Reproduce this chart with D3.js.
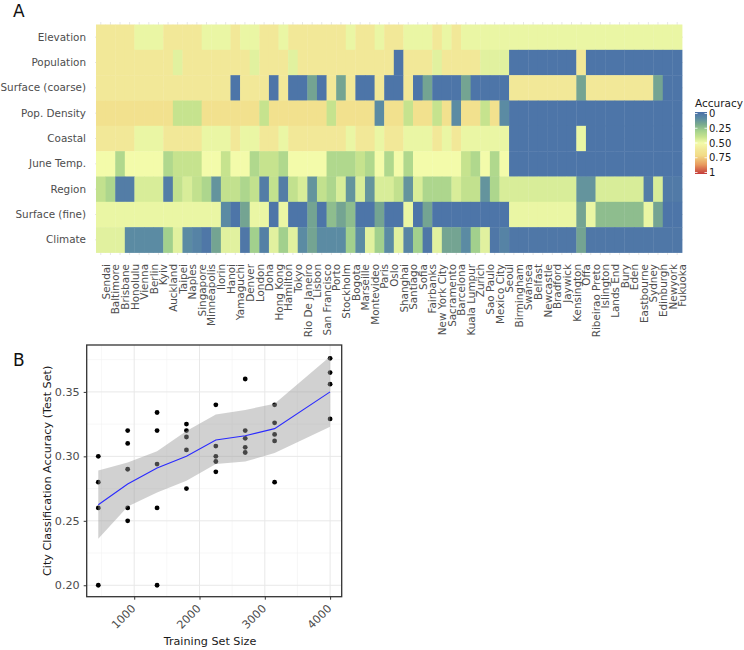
<!DOCTYPE html>
<html>
<head>
<meta charset="utf-8">
<script src="https://cdn.jsdelivr.net/npm/d3@7"></script>
<style>
  body { margin: 0; background: #fff; }
  svg { display: block; font-family: "DejaVu Sans", sans-serif; }
</style>
</head>
<body>
<svg id="chart" width="744" height="650"></svg>
<script>

// ---- panel A data ----
var cities = ["Sendai", "Baltimore", "Brisbane", "Honolulu", "Vienna", "Berlin", "Kyiv", "Auckland", "Taipei", "Naples",
  "Singapore", "Minneapolis", "Ilorin", "Hanoi", "Yamaguchi", "Denver", "London", "Doha", "Hong Kong", "Hamilton",
  "Tokyo", "Rio De Janeiro", "Lisbon", "San Francisco", "Porto", "Stockholm", "Bogota", "Marseille", "Montevideo", "Paris",
  "Oslo", "Shanghai", "Santiago", "Sofia", "Fairbanks", "New York City", "Sacramento", "Barcelona", "Kuala Lumpur", "Zurich",
  "Sao Paulo", "Mexico City", "Seoul", "Birmingham", "Swansea", "Belfast", "Newcastle", "Bradford", "Jaywick", "Kensington",
  "Offa", "Ribeirao Preto", "Islington", "Lands End", "Bury", "Eden", "Eastbourne", "Sydney", "Edinburgh", "Newyork", "Fukuoka"]

var features = ["Elevation", "Population", "Surface (coarse)", "Pop. Density", "Coastal",
  "June Temp.", "Region", "Surface (fine)", "Climate"]

var elevation = [.6,.6,.6,.6,.48,.48,.48,.6,.6,.6, .6,.48,.48,.48,.6,.48,.48,.6,.6,.48,
  .6,.6,.6,.6,.6,.6,.48,.6,.6,.48, .6,.6,.48,.48,.48,.6,.48,.6,.48,.48,
  .48,.48,.48,.48,.48,.48,.48,.48,.48,.48, .48,.48,.48,.48,.48,.48,.48,.48,.48,.48,.48]

var population = [.6,.6,.6,.6,.6,.6,.6,.6,.46,.6, .6,.6,.6,.6,.6,.6,.46,.6,.6,.6,
  .46,.6,.6,.6,.6,.6,.6,.6,.6,.6, .6,.02,.6,.6,.6,.46,.6,.6,.6,.6,
  .46,.46,.46,.02,.02,.02,.02,.02,.02,.02, .6,.02,.02,.02,.02,.02,.02,.02,.02,.02,.02]

var surfaceCoarse = [.6,.6,.6,.6,.6,.6,.6,.6,.6,.6, .6,.6,.6,.6,.02,.6,.6,.6,.02,.6,
  .02,.02,.18,.02,.6,.18,.6,.02,.02,.6, .02,.02,.6,.02,.18,.02,.02,.02,.18,.02,
  .02,.02,.02,.6,.6,.6,.6,.6,.6,.6, .18,.6,.6,.6,.6,.6,.6,.6,.18,.02,.02]

var popDensity = [.66,.66,.66,.66,.66,.66,.66,.66,.4,.4, .4,.66,.66,.66,.66,.66,.66,.4,.66,.66,
  .66,.66,.66,.66,.4,.66,.66,.66,.66,.1, .66,.66,.4,.66,.66,.4,.66,.1,.66,.66,
  .4,.66,.1,.02,.02,.02,.02,.02,.02,.02, .02,.02,.02,.02,.02,.02,.02,.02,.02,.02,.02]

var coastal = [.6,.6,.6,.6,.48,.48,.48,.6,.6,.6, .6,.48,.48,.48,.6,.48,.48,.6,.6,.48,
  .6,.6,.6,.6,.6,.6,.48,.6,.6,.48, .6,.6,.48,.48,.48,.6,.48,.6,.48,.48,
  .48,.48,.48,.02,.02,.02,.02,.02,.02,.02, .48,.02,.02,.02,.02,.02,.02,.02,.02,.02,.02]

var juneTemp = [.5,.5,.34,.5,.5,.5,.5,.34,.4,.4, .4,.5,.5,.4,.5,.5,.34,.4,.4,.34,
  .5,.5,.5,.5,.34,.34,.34,.4,.34,.5, .34,.5,.34,.5,.5,.5,.5,.5,.4,.34,
  .5,.34,.5,.02,.02,.02,.02,.02,.02,.02, .02,.02,.02,.02,.02,.02,.02,.02,.02,.02,.02]

var region = [.39,.33,.05,.05,.44,.44,.44,.05,.39,.44, .39,.33,.13,.39,.39,.33,.39,.05,.39,.05,
  .39,.44,.13,.39,.33,.44,.13,.44,.13,.44, .44,.39,.13,.44,.33,.33,.33,.44,.39,.39,
  .13,.33,.44,.44,.44,.44,.44,.44,.44,.44, .13,.13,.44,.44,.44,.44,.44,.05,.44,.04,.04]

var surfaceFine = [.48,.48,.48,.48,.48,.48,.48,.48,.48,.48, .48,.48,.48,.1,.02,.18,.48,.48,.02,.48,
  .02,.02,.18,.02,.25,.18,.25,.02,.02,.18, .02,.02,.48,.02,.18,.02,.02,.02,.02,.02,
  .02,.02,.02,.48,.48,.48,.48,.48,.48,.48, .18,.48,.25,.25,.25,.25,.25,.48,.18,.02,.02]

var climate = [.46,.46,.46,.1,.1,.1,.1,.3,.46,.1, .07,.03,.18,.46,.46,.03,.3,.06,.46,.3,
  .46,.1,.18,.1,.1,.1,.3,.1,.46,.3, .1,.46,.08,.3,.03,.46,.18,.18,.1,.3,
  .46,.03,.07,.03,.03,.03,.03,.03,.03,.03, .18,.03,.03,.03,.03,.03,.03,.03,.03,.03,.03]

var featureValues = [elevation, population, surfaceCoarse, popDensity, coastal,
  juneTemp, region, surfaceFine, climate]

var legendBreaks = [0, 0.25, 0.5, 0.75, 1]

// ---- panel B data ----
var trainSizes = [450, 900, 1350, 1800, 2250, 2700, 3150, 4000]
var runAccuracy = [
  [0.30, 0.28, 0.26, 0.20],
  [0.32, 0.31, 0.29, 0.26, 0.25],
  [0.334, 0.32, 0.294, 0.26, 0.20],
  [0.325, 0.32, 0.315, 0.305, 0.275],
  [0.34, 0.308, 0.30, 0.296, 0.288],
  [0.36, 0.32, 0.314, 0.307, 0.303],
  [0.34, 0.326, 0.317, 0.312, 0.28],
  [0.376, 0.365, 0.356, 0.329]
]
var meanAccuracy = [0.2625, 0.2786, 0.291, 0.300, 0.3127, 0.316, 0.3215, 0.350]
var bandLow = [0.236, 0.261, 0.272, 0.281, 0.294, 0.296, 0.3026, 0.323]
var bandHigh = [0.289, 0.2953, 0.304, 0.3197, 0.3324, 0.336, 0.3408, 0.3775]
var xTicks = [1000, 2000, 3000, 4000]
var yTicks = [0.20, 0.25, 0.30, 0.35]


var svg = d3.select("#chart")

// colour ramp for accuracy
var color = d3.scaleLinear()
  .domain([0, 0.1, 0.2, 0.3, 0.4, 0.5, 0.6, 0.7, 0.85, 1])
  .range(["#4a6fa9", "#5b8ba3", "#7aaa8e", "#a2d08d", "#c6e38e", "#f3fbaa", "#f2e898", "#f2dc88", "#e89a5e", "#c43b3a"])

// ===================== Panel A =====================
var heat = { left: 96, right: 682, top: 24.5, bottom: 252.5 }

var x = d3.scaleBand()
  .domain(cities)
  .range([heat.left, heat.right])
  .padding(0)

var y = d3.scaleBand()
  .domain(features)
  .range([heat.top, heat.bottom])
  .padding(0)

svg.append("text")
  .text("A")
  .attr("x", 13)
  .attr("y", 17)
  .style("font-size", "17px")
  .attr("fill", "#111")

// faint grid behind the tiles
var gridA = svg.append("g")
gridA.selectAll("line.v")
  .data(cities)
  .enter().append("line")
  .attr("x1", function(d) { return x(d) + x.bandwidth() / 2 })
  .attr("x2", function(d) { return x(d) + x.bandwidth() / 2 })
  .attr("y1", heat.top - 2.5)
  .attr("y2", heat.bottom + 2.5)
  .attr("stroke", "#e6e6e6")
gridA.selectAll("line.h")
  .data(features)
  .enter().append("line")
  .attr("x1", heat.left - 1)
  .attr("x2", heat.right + 1)
  .attr("y1", function(d) { return y(d) + y.bandwidth() / 2 })
  .attr("y2", function(d) { return y(d) + y.bandwidth() / 2 })
  .attr("stroke", "#e6e6e6")

var cells = []
features.forEach(function(f, i) {
  featureValues[i].forEach(function(v, j) {
    cells.push({ feature: f, city: cities[j], value: v })
  })
})

svg.append("g")
  .selectAll("rect")
  .data(cells)
  .enter().append("rect")
  .attr("x", function(d) { return x(d.city) })
  .attr("y", function(d) { return y(d.feature) })
  .attr("width", x.bandwidth() + 0.4)
  .attr("height", y.bandwidth() + 0.4)
  .attr("fill", function(d) { return color(d.value) })

// row labels
svg.append("g")
  .selectAll("text")
  .data(features)
  .enter().append("text")
  .text(function(d) { return d })
  .attr("x", 86)
  .attr("y", function(d) { return y(d) + y.bandwidth() / 2 })
  .attr("dy", "0.35em")
  .attr("text-anchor", "end")
  .style("font-size", "10.4px")
  .attr("fill", "#4d4d4d")

// column labels, rotated
svg.append("g")
  .selectAll("text")
  .data(cities)
  .enter().append("text")
  .text(function(d) { return d })
  .attr("transform", function(d) {
    return "translate(" + (x(d) + x.bandwidth() / 2 + 9) + "," + 264 + ") rotate(-90)"
  })
  .attr("text-anchor", "end")
  .style("font-size", "10.4px")
  .attr("fill", "#4d4d4d")

// legend
var legendTop = 112, legendBottom = 174, legendX = 695, legendW = 12
var defs = svg.append("defs")
var grad = defs.append("linearGradient")
  .attr("id", "accGrad")
  .attr("x1", 0).attr("y1", 0).attr("x2", 0).attr("y2", 1)
d3.range(0, 1.0001, 0.05).forEach(function(t) {
  grad.append("stop")
    .attr("offset", t)
    .attr("stop-color", color(t))
})

svg.append("text")
  .text("Accuracy")
  .attr("x", legendX)
  .attr("y", 107)
  .style("font-size", "10.5px")
  .attr("fill", "#1a1a1a")

svg.append("rect")
  .attr("x", legendX)
  .attr("y", legendTop)
  .attr("width", legendW)
  .attr("height", legendBottom - legendTop)
  .attr("fill", "url(#accGrad)")

var legendScale = d3.scaleLinear()
  .domain([0, 1])
  .range([legendTop + 1.5, legendBottom - 1.5])

var lg = svg.append("g")
lg.selectAll("line.l")
  .data(legendBreaks)
  .enter().append("line")
  .attr("x1", legendX).attr("x2", legendX + 2.5)
  .attr("y1", function(d) { return legendScale(d) })
  .attr("y2", function(d) { return legendScale(d) })
  .attr("stroke", "white").attr("stroke-width", 0.8)
lg.selectAll("line.r")
  .data(legendBreaks)
  .enter().append("line")
  .attr("x1", legendX + legendW - 2.5).attr("x2", legendX + legendW)
  .attr("y1", function(d) { return legendScale(d) })
  .attr("y2", function(d) { return legendScale(d) })
  .attr("stroke", "white").attr("stroke-width", 0.8)
lg.selectAll("text")
  .data(legendBreaks)
  .enter().append("text")
  .text(function(d) { return d == 0 || d == 1 ? d : d3.format(".2f")(d) })
  .attr("x", legendX + legendW + 2)
  .attr("y", function(d) { return legendScale(d) })
  .attr("dy", "0.35em")
  .style("font-size", "10px")
  .attr("fill", "#1a1a1a")

// ===================== Panel B =====================
var pb = { left: 86.7, right: 341.7, top: 345, bottom: 596.7 }

svg.append("text")
  .text("B")
  .attr("x", 13)
  .attr("y", 366)
  .style("font-size", "17px")
  .attr("fill", "#111")

var allY = d3.merge(runAccuracy).concat(bandLow, bandHigh)
var yExt = d3.extent(allY)
var yPad = (yExt[1] - yExt[0]) * 0.05
var xExt = d3.extent(trainSizes)
var xPad = (xExt[1] - xExt[0]) * 0.05

var xb = d3.scaleLinear()
  .domain([xExt[0] - xPad, xExt[1] + xPad])
  .range([pb.left, pb.right])

var yb = d3.scaleLinear()
  .domain([yExt[0] - yPad, yExt[1] + yPad])
  .range([pb.bottom, pb.top])

var xMinor = [500, 1500, 2500, 3500]
var yMinor = [0.225, 0.275, 0.325, 0.375]

var gridB = svg.append("g")
gridB.selectAll("line.xm")
  .data(xMinor)
  .enter().append("line")
  .attr("x1", function(d) { return xb(d) }).attr("x2", function(d) { return xb(d) })
  .attr("y1", pb.top).attr("y2", pb.bottom)
  .attr("stroke", "#f2f2f2").attr("stroke-width", 0.6)
gridB.selectAll("line.ym")
  .data(yMinor)
  .enter().append("line")
  .attr("y1", function(d) { return yb(d) }).attr("y2", function(d) { return yb(d) })
  .attr("x1", pb.left).attr("x2", pb.right)
  .attr("stroke", "#f2f2f2").attr("stroke-width", 0.6)
gridB.selectAll("line.xM")
  .data(xTicks)
  .enter().append("line")
  .attr("x1", function(d) { return xb(d) }).attr("x2", function(d) { return xb(d) })
  .attr("y1", pb.top).attr("y2", pb.bottom)
  .attr("stroke", "#e8e8e8").attr("stroke-width", 1)
gridB.selectAll("line.yM")
  .data(yTicks)
  .enter().append("line")
  .attr("y1", function(d) { return yb(d) }).attr("y2", function(d) { return yb(d) })
  .attr("x1", pb.left).attr("x2", pb.right)
  .attr("stroke", "#e8e8e8").attr("stroke-width", 1)

// points
var pts = []
trainSizes.forEach(function(s, i) {
  runAccuracy[i].forEach(function(a) { pts.push({ size: s, acc: a }) })
})
svg.append("g")
  .selectAll("circle")
  .data(pts)
  .enter().append("circle")
  .attr("cx", function(d) { return xb(d.size) })
  .attr("cy", function(d) { return yb(d.acc) })
  .attr("r", 2.4)
  .attr("fill", "black")

// ribbon + mean line
var band = trainSizes.map(function(s, i) {
  return { size: s, lo: bandLow[i], hi: bandHigh[i], mean: meanAccuracy[i] }
})

svg.append("path")
  .datum(band)
  .attr("d", d3.area()
    .x(function(d) { return xb(d.size) })
    .y0(function(d) { return yb(d.lo) })
    .y1(function(d) { return yb(d.hi) }))
  .attr("fill", "#999999")
  .attr("fill-opacity", 0.45)

svg.append("path")
  .datum(band)
  .attr("d", d3.line()
    .x(function(d) { return xb(d.size) })
    .y(function(d) { return yb(d.mean) }))
  .attr("fill", "none")
  .attr("stroke", "#2a2aff")
  .attr("stroke-width", 1.1)

// border
svg.append("rect")
  .attr("x", pb.left).attr("y", pb.top)
  .attr("width", pb.right - pb.left)
  .attr("height", pb.bottom - pb.top)
  .attr("fill", "none")
  .attr("stroke", "#333")
  .attr("stroke-width", 1.3)

// axes
var xAxis = svg.append("g")
  .attr("transform", "translate(0," + pb.bottom + ")")
  .call(d3.axisBottom(xb).tickValues(xTicks).tickFormat(d3.format("d")).tickSize(3).tickSizeOuter(0))
xAxis.select(".domain").remove()
xAxis.selectAll(".tick line").attr("stroke", "#333").attr("stroke-width", 1)
xAxis.selectAll(".tick text")
  .style("font-size", "11.2px")
  .style("font-family", "DejaVu Sans")
  .attr("fill", "#4d4d4d")
  .attr("text-anchor", "end")
  .attr("x", 0).attr("y", 0).attr("dy", "0.71em")
  .attr("transform", "translate(-4,7) rotate(-45)")

var yAxis = svg.append("g")
  .attr("transform", "translate(" + pb.left + ",0)")
  .call(d3.axisLeft(yb).tickValues(yTicks).tickFormat(d3.format(".2f")).tickSize(3).tickPadding(4).tickSizeOuter(0))
yAxis.select(".domain").remove()
yAxis.selectAll(".tick line").attr("stroke", "#333").attr("stroke-width", 1)
yAxis.selectAll(".tick text")
  .style("font-size", "11.2px")
  .style("font-family", "DejaVu Sans")
  .attr("fill", "#4d4d4d")

svg.append("text")
  .text("Training Set Size")
  .attr("x", 210)
  .attr("y", 645)
  .attr("text-anchor", "middle")
  .style("font-size", "11.2px")
  .attr("fill", "#1a1a1a")

svg.append("text")
  .text("City Classification Accuracy (Test Set)")
  .attr("transform", "translate(51," + ((pb.top + pb.bottom) / 2) + ") rotate(-90)")
  .attr("text-anchor", "middle")
  .style("font-size", "11.2px")
  .attr("fill", "#1a1a1a")

</script>
</body>
</html>
